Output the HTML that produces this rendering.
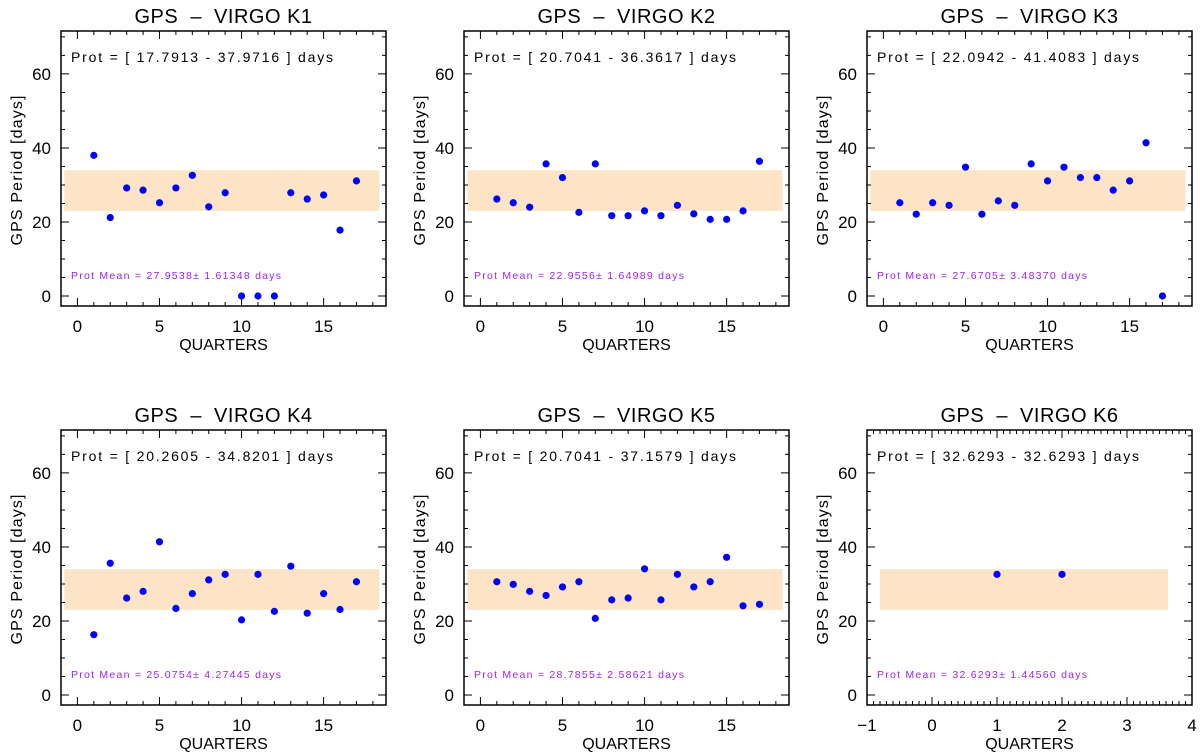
<!DOCTYPE html>
<html><head><meta charset="utf-8"><style>
html,body{margin:0;padding:0;background:#fff;}
svg{display:block;font-family:"Liberation Sans","DejaVu Sans",sans-serif;}
</style></head><body>
<svg id="chart" width="1200" height="755" viewBox="0 0 1200 755" xmlns="http://www.w3.org/2000/svg"></svg>
<script>
const titles = ["GPS - VIRGO K1","GPS - VIRGO K2","GPS - VIRGO K3","GPS - VIRGO K4","GPS - VIRGO K5","GPS - VIRGO K6"];
const protRanges = ["Prot = [ 17.7913 - 37.9716 ] days","Prot = [ 20.7041 - 36.3617 ] days","Prot = [ 22.0942 - 41.4083 ] days","Prot = [ 20.2605 - 34.8201 ] days","Prot = [ 20.7041 - 37.1579 ] days","Prot = [ 32.6293 - 32.6293 ] days"];
const protMeans = ["Prot Mean = 27.9538\u00b1 1.61348 days","Prot Mean = 22.9556\u00b1 1.64989 days","Prot Mean = 27.6705\u00b1 3.48370 days","Prot Mean = 25.0754\u00b1 4.27445 days","Prot Mean = 28.7855\u00b1 2.58621 days","Prot Mean = 32.6293\u00b1 1.44560 days"];
const quarters = [1,2,3,4,5,6,7,8,9,10,11,12,13,14,15,16,17];
const quarters6 = [1,2];
const seriesK1 = [38.0,21.2,29.2,28.6,25.2,29.2,32.6,24.1,27.9,0,0,0,27.9,26.2,27.3,17.8,31.1];
const seriesK2 = [26.2,25.2,24.0,35.7,32.0,22.6,35.7,21.7,21.7,23.0,21.7,24.5,22.2,20.7,20.7,23.0,36.4];
const seriesK3 = [25.2,22.1,25.2,24.5,34.8,22.1,25.7,24.5,35.7,31.1,34.8,32.0,32.0,28.6,31.1,41.4,0];
const seriesK4 = [16.3,35.6,26.2,28.0,41.4,23.4,27.4,31.1,32.6,20.3,32.6,22.6,34.8,22.1,27.4,23.1,30.6];
const seriesK5 = [30.6,29.9,28.0,26.9,29.2,30.6,20.7,25.7,26.2,34.1,25.7,32.6,29.2,30.6,37.2,24.1,24.5];
const seriesK6 = [32.6,32.6];
const bandLow = [23,23,23,23,23,23];
const bandHigh = [34,34,34,34,34,34];
const xTicksA = [0,5,10,15];
const xTicksB = [-1,0,1,2,3,4];
const yTicks = [0,20,40,60];

const NS="http://www.w3.org/2000/svg";
const svg=document.getElementById('chart');
function mk(tag,attrs,parent){const e=document.createElementNS(NS,tag);for(const k in attrs)e.setAttribute(k,attrs[k]);(parent||svg).appendChild(e);return e;}

const cols=[61,464,867], rows=[31,430], W=325, H=275;
const panels=[
 {x:quarters,y:seriesK1,xr:[-1,18.8],xt:xTicksA,minor:1,band:[-0.8,18.4]},
 {x:quarters,y:seriesK2,xr:[-1,18.8],xt:xTicksA,minor:1,band:[-0.8,18.4]},
 {x:quarters,y:seriesK3,xr:[-1,18.8],xt:xTicksA,minor:1,band:[-0.8,18.4]},
 {x:quarters,y:seriesK4,xr:[-1,18.8],xt:xTicksA,minor:1,band:[-0.8,18.4]},
 {x:quarters,y:seriesK5,xr:[-1,18.8],xt:xTicksA,minor:1,band:[-0.8,18.4]},
 {x:quarters6,y:seriesK6,xr:[-1,4],xt:xTicksB,minor:0.1,band:[-0.8,3.63]}
];
const yr=[-2.7,71.6];

panels.forEach((p,i)=>{
  const L=cols[i%3], T=rows[Math.floor(i/3)], R=L+W, B=T+H;
  const g=mk('g',{});
  
  
  const sx=v=>L+(v-p.xr[0])/(p.xr[1]-p.xr[0])*W;
  const sy=v=>B-(v-yr[0])/(yr[1]-yr[0])*H;
  const band=mk('rect',{x:sx(p.band[0]),y:sy(bandHigh[i]),width:sx(p.band[1])-sx(p.band[0]),height:sy(bandLow[i])-sy(bandHigh[i]),fill:'#fde4c6'},g);
  
  
  const fr=mk('rect',{x:L,y:T,width:W,height:H,fill:'none',stroke:'#000','stroke-width':1.5},g);
  
  
  let d='';
  const nMin=Math.ceil(p.xr[0]/p.minor-1e-9), nMax=Math.floor(p.xr[1]/p.minor+1e-9);
  for(let n=nMin;n<=nMax;n++){const v=n*p.minor;const isMaj=p.xt.some(t=>Math.abs(t-v)<1e-6);const len=isMaj?8:4;const X=sx(v);d+=`M${X},${B}v${-len}M${X},${T}v${len}`;}
  for(let v=0;v<=70;v+=5){const isMaj=yTicks.includes(v);const len=isMaj?8:4;const Y=sy(v);d+=`M${L},${Y}h${len}M${R},${Y}h${-len}`;}
  const tk=mk('path',{d:d,stroke:'#000','stroke-width':1,fill:'none'},g);
  
  
  p.xt.forEach(v=>{const X=sx(v);const t=mk('text',{x:X,y:B+26,'font-size':17,'text-anchor':'middle',fill:'#000'},g);t.textContent=v<0?'\u2212'+Math.abs(v):String(v);
    
    });
  yTicks.forEach(v=>{const t=mk('text',{x:L-10,y:sy(v)+6,'font-size':17,'text-anchor':'end',fill:'#000'},g);t.textContent=String(v);
    
    });
  const tt=mk('text',{x:L+W/2,y:T-8,'font-size':20,'text-anchor':'middle',fill:'#000','letter-spacing':'0.5'},g);tt.textContent=titles[i].replace(' - ','  \u2013  ');
  
  
  tt.style.whiteSpace='pre';
  const xl=mk('text',{x:L+W/2,y:B+44,'font-size':16,'text-anchor':'middle',fill:'#000'},g);xl.textContent='QUARTERS';
  
  
  const yl=mk('text',{x:0,y:0,'font-size':16,'text-anchor':'middle',fill:'#000',textLength:150,lengthAdjust:'spacing',transform:`translate(${L-39},${T+H/2+2}) rotate(-90)`},g);yl.textContent='GPS Period [days]';
  
  
  const pr=mk('text',{x:L+10,y:T+31,'font-size':14,fill:'#000',textLength:262,lengthAdjust:'spacing'},g);pr.textContent=protRanges[i];pr.style.whiteSpace='pre';
  
  
  const pm=mk('text',{x:L+10,y:T+248,'font-size':10.5,fill:'#a020f0',textLength:210,lengthAdjust:'spacing'},g);pm.textContent=protMeans[i];
  
  
  p.x.forEach((xv,j)=>{const c=mk('circle',{cx:sx(xv),cy:sy(p.y[j]),r:3.6,fill:'#0000ff'},g);
    
    });
});
</script>
</body></html>
